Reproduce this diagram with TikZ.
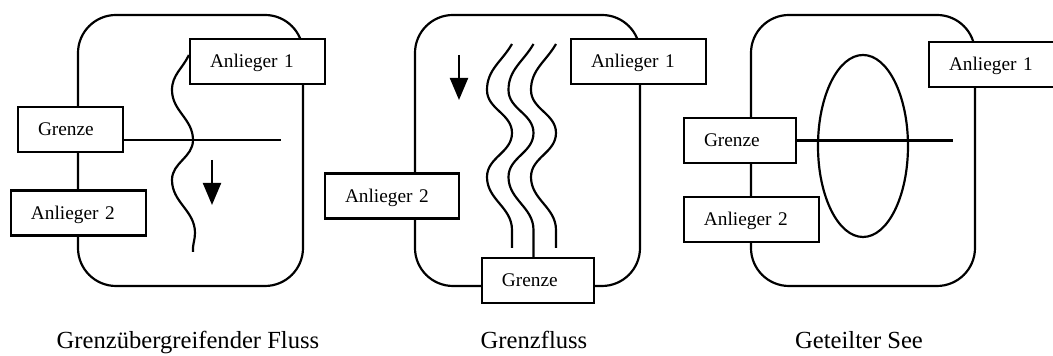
\documentclass[tikz,border=0pt]{standalone}
\usepackage{fontspec}
\setmainfont{Liberation Serif}
\usetikzlibrary{arrows.meta}

\begin{document}
\begin{tikzpicture}[x=1mm, y=1mm, line width=0.62pt,
    feld/.style={draw, rounded corners=3.8mm},
    kasten/.style={draw, fill=white, inner xsep=2mm, inner ysep=0pt, minimum height=4.5mm,
      text width=#1, align=left, text height=1.75mm, text depth=0.45mm,
      font=\fontsize{5.5}{6.6}\selectfont},
    titel/.style={anchor=base, font=\fontsize{7}{8.4}\selectfont},
    strom/.style={-{Triangle[length=2.2mm, width=1.8mm]}}]
  \useasboundingbox (0,0) rectangle (105.3,35.6);

  % Grenzuebergreifender Fluss
  \draw[feld] (7.8,7.0) rectangle (30.3,34.1); % Gebiet
  \node[kasten=9.5mm] (anlA1) at (25.75,29.45) {Anlieger 1};
  \node[kasten=6.5mm] (grenzeA) at (7.05,22.65) {Grenze};
  \node[kasten=9.5mm] (anlA2) at (7.85,14.3) {Anlieger 2};
  \coordinate (linieA) at (28.1,21.6);
  \draw (grenzeA.east |- linieA) -- (linieA); % Grenzlinie
  \draw ([yshift=0.65mm]anlA1.west) to[out=-115,in=90] (17.2,26.6)
    to[out=-90,in=90] (19.3,21.6) to[out=-90,in=90] (17.2,17.6)
    to[out=-90,in=90] (19.5,12.3) to[out=-90,in=95] (19.3,10.4); % Fluss
  \coordinate (pfeilA) at (21.2,19.6);
  \coordinate (spitzeA) at (21.2,15.1);
  \draw[strom] (pfeilA) -- (spitzeA); % Fliessrichtung
  \node[titel] (titelA) at (18.8,0.7) {Grenzübergreifender Fluss};

  % Grenzfluss
  \draw[feld] (41.5,7.0) rectangle (64.0,34.1);
  \node[kasten=9.5mm] (anlB1) at (63.85,29.45) {Anlieger 1};
  \node[kasten=9.4mm] (anlB2) at (39.2,16.0) {Anlieger 2};
  \node[kasten=7.2mm] (grenzeB) at (53.8,7.55) {Grenze};
  \foreach \d/\e in {0/10.8, 2.15/9.8, 4.4/10.8}
    \draw ({51.2+\d},31.2) to[out=-120,in=90] ({48.7+\d},26.6)
      to[out=-90,in=90] ({51.2+\d},22.3) to[out=-90,in=90] ({48.7+\d},17.9)
      to[out=-90,in=90] ({51.2+\d},12.6) to[out=-90,in=90] ({51.2+\d},\e); % drei Flusslinien
  \coordinate (pfeilB) at (45.9,30.1);
  \coordinate (spitzeB) at (45.9,25.6);
  \draw[strom] (pfeilB) -- (spitzeB);
  \node[titel] (titelB) at (53.4,0.7) {Grenzfluss};

  % Geteilter See
  \draw[feld] (75.1,7.0) rectangle (97.5,34.1);
  \draw (86.3,21.0) ellipse (4.5 and 9.1); % See
  \node[kasten=8.7mm] (anlC1) at (99.25,29.15) {Anlieger 1};
  \node[kasten=7.2mm] (grenzeC) at (74.0,21.55) {Grenze};
  \node[kasten=9.5mm] (anlC2) at (75.15,13.65) {Anlieger 2};
  \coordinate (linieC) at (95.3,21.55);
  \draw (grenzeC.east) -- (linieC);
  \node[titel] (titelC) at (85.9,0.7) {Geteilter See};
\end{tikzpicture}
\end{document}
